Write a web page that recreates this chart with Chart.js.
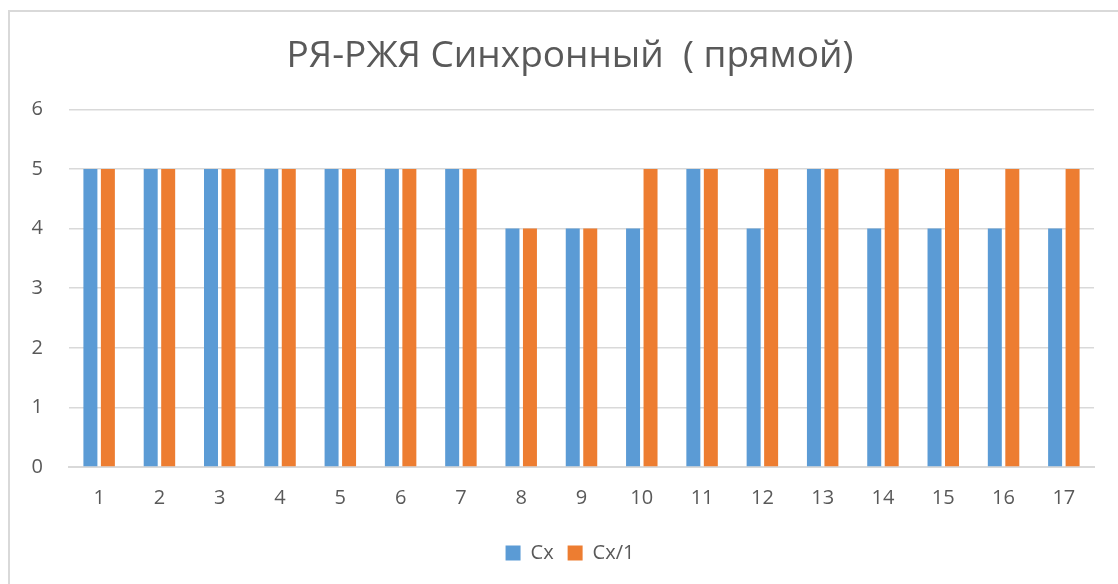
<!DOCTYPE html>
<html><head><meta charset="utf-8">
<script src="https://cdn.jsdelivr.net/npm/chart.js@4"></script>
<style>html,body{margin:0;padding:0;background:#fff}#wrap{width:1118px;height:584px}</style>
</head><body><div id="wrap"><canvas id="c" width="1118" height="584"></canvas></div>
<script>
const categories = ["1","2","3","4","5","6","7","8","9","10","11","12","13","14","15","16","17"];
const seriesCx  = [5,5,5,5,5,5,5,4,4,4,5,4,5,4,4,4,4];
const seriesCx1 = [5,5,5,5,5,5,5,4,4,5,5,5,5,5,5,5,5];
const yTicks = [0,1,2,3,4,5,6];
const titleText = "РЯ-РЖЯ Синхронный  ( прямой)";

const borderPlugin = {
  id:'frame',
  beforeDraw(chart){
    const ctx = chart.ctx;
    ctx.save();
    ctx.fillStyle='#fff'; ctx.fillRect(0,0,chart.width,chart.height);
    ctx.strokeStyle='#d9d9d9'; ctx.lineWidth=2;
    ctx.beginPath(); ctx.moveTo(9,chart.height); ctx.lineTo(9,11); ctx.lineTo(chart.width,11); ctx.stroke();
    ctx.restore();
  }
};

new Chart(document.getElementById('c'), {
  type:'bar',
  data:{labels:categories, datasets:[
    {label:'Cx', data:seriesCx, backgroundColor:'#5b9bd5', borderWidth:0, barPercentage:0.8, categoryPercentage:0.58},
    {label:'Cx/1', data:seriesCx1, backgroundColor:'#ed7d31', borderWidth:0, barPercentage:0.8, categoryPercentage:0.58}
  ]},
  options:{
    responsive:false, animation:false,
    layout:{padding:{left:22,right:0,top:34,bottom:11}},
    plugins:{
      title:{display:true, text:titleText, color:'#595959', font:{family:'Open Sans', size:37, weight:'normal'}, padding:{top:0,bottom:31}},
      legend:{position:'bottom', labels:{color:'#595959', font:{family:'Open Sans', size:20}, boxWidth:15, boxHeight:15, padding:14}},
      tooltip:{enabled:false}
    },
    scales:{
      x:{grid:{display:false, drawTicks:false}, border:{color:'#d9d9d9', width:2},
         ticks:{color:'#595959', font:{family:'Open Sans', size:20}, padding:19}},
      y:{min:0,max:6, afterFit(s){s.width=47;},
         afterBuildTicks(s){s.ticks=yTicks.map(v=>({value:v}));},
         grid:{color:'#d9d9d9', lineWidth:1.5, drawTicks:false}, border:{display:false},
         ticks:{color:'#595959', font:{family:'Open Sans', size:20}, padding:26, stepSize:1}},
      yRight:{position:'right', display:true, afterFit(s){s.width=24;},
         grid:{display:false, drawTicks:false}, border:{display:false}, ticks:{display:false}}
    }
  },
  plugins:[borderPlugin]
});
</script></body></html>
